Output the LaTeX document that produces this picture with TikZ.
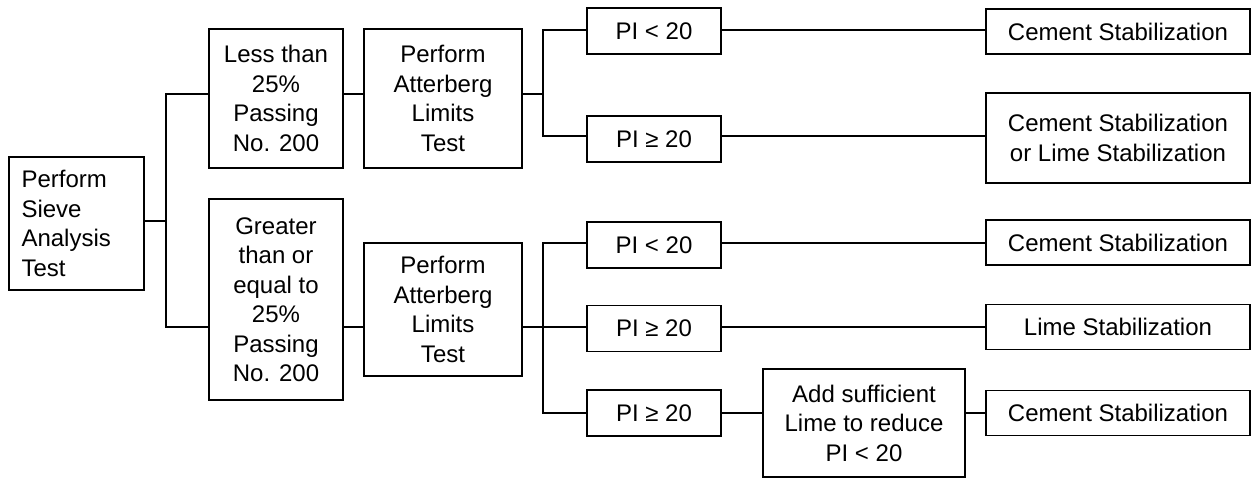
\documentclass[tikz,border=0pt]{standalone}
\usepackage{fontspec}
\setmainfont{Liberation Sans}
\begin{document}
\begin{tikzpicture}[x=1pt,y=-1pt,
  box/.style={draw, line width=1.9pt, inner sep=0pt, align=center,
              font=\fontsize{24}{29.5}\selectfont},
  pibox/.style={box, minimum width=134pt, minimum height=46pt},
  resbox/.style={box, minimum width=264pt, minimum height=45pt},
  conn/.style={line width=1.9pt}]
\useasboundingbox (0,0) rectangle (1252,478);

% nodes
\node[box, minimum width=135pt, minimum height=133pt, text width=110pt,
      align=left, inner xsep=12.5pt, inner ysep=0pt] (sieve) at (76.5,223.5)
      {Perform\\Sieve\\Analysis\\Test};
\node[box, minimum width=134pt, minimum height=139pt] (less) at (276,98.5)
      {Less than\\25\%\\Passing\\No. 200};
\node[box, minimum width=134pt, minimum height=201pt] (greater) at (276,299.5)
      {Greater\\than or\\equal to\\25\%\\Passing\\No. 200};
\node[box, minimum width=158pt, minimum height=139pt] (att1) at (443,98.5)
      {Perform\\Atterberg\\Limits\\Test};
\node[box, minimum width=158pt, minimum height=133pt] (att2) at (443,309.5)
      {Perform\\Atterberg\\Limits\\Test};

\node[pibox] (pia) at (654,31) {PI < 20};
\node[pibox] (pib) at (654,139) {PI ≥ 20};
\node[pibox] (pic) at (654,245) {PI < 20};
\node[pibox] (pid) at (654,328.5) {PI ≥ 20};
\node[pibox] (pie) at (654,413) {PI ≥ 20};

\node[box, minimum width=202pt, minimum height=108pt] (add) at (864,423)
      {Add sufficient\\Lime to reduce\\PI < 20};

\node[resbox] (cem1) at (1118,31.5) {Cement Stabilization};
\node[resbox, minimum height=90pt] (cl) at (1118,138)
      {Cement Stabilization\\or Lime Stabilization};
\node[resbox] (cem3) at (1118,242.5) {Cement Stabilization};
\node[resbox] (lime) at (1118,327) {Lime Stabilization};
\node[resbox] (cem5) at (1118,413) {Cement Stabilization};

% junction coordinates
\coordinate (tT) at (166,94);
\coordinate (tM) at (166,221);
\coordinate (tB) at (166,327);
\coordinate (bA) at (543,30);
\coordinate (bJ) at (543,94);
\coordinate (bB) at (543,136);
\coordinate (cA) at (543,243);
\coordinate (cB) at (543,327);
\coordinate (cC) at (543,413);

% connectors
\draw[conn] (sieve.east |- tM) -- (tM);
\draw[conn] (tT -| less.west) -- (tT) -- (tB) -- (tB -| greater.west);
\draw[conn] (less.east |- tT) -- (att1.west |- tT);
\draw[conn] (greater.east |- tB) -- (att2.west |- tB);
\draw[conn] (att1.east |- bJ) -- (bJ);
\draw[conn] (bA -| pia.west) -- (bA) -- (bB) -- (bB -| pib.west);
\draw[conn] (pia.east |- bA) -- (cem1.west |- bA);
\draw[conn] (pib.east |- bB) -- (cl.west |- bB);
\draw[conn] (att2.east |- cB) -- (cB);
\draw[conn] (cA -| pic.west) -- (cA) -- (cC) -- (cC -| pie.west);
\draw[conn] (cB) -- (cB -| pid.west);
\draw[conn] (pic.east |- cA) -- (cem3.west |- cA);
\draw[conn] (pid.east |- cB) -- (lime.west |- cB);
\draw[conn] (pie.east) -- (add.west |- pie.east);
\draw[conn] (add.east |- pie.east) -- (cem5.west);
\end{tikzpicture}
\end{document}
